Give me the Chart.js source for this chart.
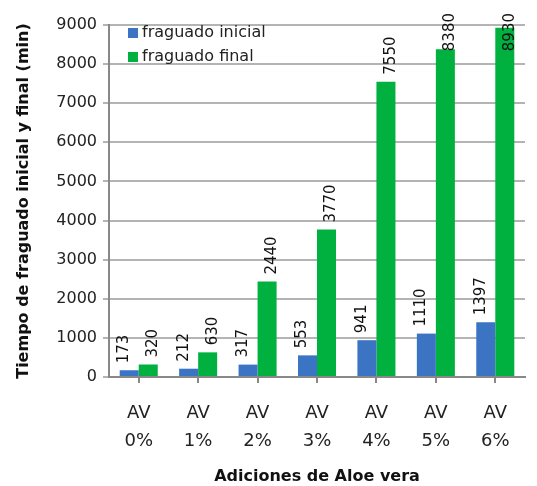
<!DOCTYPE html>
<html>
<head>
<meta charset="utf-8">
<script src="https://cdn.jsdelivr.net/npm/chart.js@4.4.0/dist/chart.umd.min.js"></script>
<style>
  html, body { margin: 0; padding: 0; background: #fff; }
  #wrap { width: 537px; height: 486px; position: relative; }
</style>
</head>
<body>
<div id="wrap"><canvas id="chart" width="537" height="486"></canvas></div>
<script>
var categories = [["AV", "0%"], ["AV", "1%"], ["AV", "2%"], ["AV", "3%"], ["AV", "4%"], ["AV", "5%"], ["AV", "6%"]];
var inicialValues = [173, 212, 317, 553, 941, 1110, 1397];
var finalValues = [320, 630, 2440, 3770, 7550, 8380, 8930];
var seriesNames = ["fraguado inicial", "fraguado final"];
var yTicks = [0, 1000, 2000, 3000, 4000, 5000, 6000, 7000, 8000, 9000];

var FONT = "'DejaVu Sans', sans-serif";

// rotated value labels over each bar
var valueLabels = {
    id: "valueLabels",
    afterDatasetsDraw: function (chart) {
        var ctx = chart.ctx;
        var offsets = [-5, 5];
        ctx.save();
        ctx.font = "15px " + FONT;
        ctx.fillStyle = "#111";
        ctx.textBaseline = "middle";
        ctx.textAlign = "left";
        chart.data.datasets.forEach(function (ds, di) {
            var meta = chart.getDatasetMeta(di);
            meta.data.forEach(function (bar, i) {
                var txt = String(ds.data[i]);
                var w = ctx.measureText(txt).width;
                var start = bar.y - 7;
                if (start - w < 13) start = 13 + w;
                ctx.save();
                ctx.translate(bar.x + offsets[di], start);
                ctx.rotate(-Math.PI / 2);
                ctx.fillText(txt, 0, 0);
                ctx.restore();
            });
        });
        ctx.restore();
    }
};

// legend drawn inside the plot area, top left
var innerLegend = {
    id: "innerLegend",
    afterDraw: function (chart) {
        var ctx = chart.ctx;
        var area = chart.chartArea;
        ctx.save();
        ctx.font = "16px " + FONT;
        ctx.textBaseline = "middle";
        ctx.textAlign = "left";
        chart.data.datasets.forEach(function (ds, i) {
            var y = area.top + 8 + i * 24;
            ctx.fillStyle = ds.backgroundColor;
            ctx.fillRect(area.left + 19, y - 5, 10, 10);
            ctx.fillStyle = "#222";
            ctx.fillText(ds.label, area.left + 33, y);
        });
        ctx.restore();
    }
};

var chart = new Chart(document.getElementById("chart"), {
    type: "bar",
    data: {
        labels: categories,
        datasets: [
            {
                label: seriesNames[0],
                data: inicialValues,
                backgroundColor: "#3b74c2",
                categoryPercentage: 0.64,
                barPercentage: 1.0
            },
            {
                label: seriesNames[1],
                data: finalValues,
                backgroundColor: "#00b140",
                categoryPercentage: 0.64,
                barPercentage: 1.0
            }
        ]
    },
    options: {
        responsive: false,
        animation: false,
        layout: {
            padding: { top: 25, right: 12, bottom: 0, left: 0 }
        },
        plugins: {
            legend: { display: false },
            tooltip: { enabled: false }
        },
        scales: {
            x: {
                grid: {
                    offset: false,
                    drawOnChartArea: false,
                    drawTicks: true,
                    tickLength: 6,
                    color: "#888",
                    lineWidth: 2
                },
                border: { color: "#888", width: 2 },
                ticks: {
                    color: "#222",
                    padding: 16,
                    font: { family: FONT, size: 18, lineHeight: 1.55 },
                    maxRotation: 0,
                    autoSkip: false
                },
                title: {
                    display: true,
                    text: "Adiciones de Aloe vera",
                    color: "#111",
                    font: { family: FONT, size: 16, weight: "bold" },
                    padding: { top: 0, bottom: 0 }
                },
                afterFit: function (scale) { scale.height = 109; }
            },
            y: {
                min: 0,
                max: 9000,
                afterBuildTicks: function (scale) {
                    scale.ticks = yTicks.map(function (v) { return { value: v }; });
                },
                grid: {
                    color: "#b4b4b4",
                    lineWidth: 2,
                    drawTicks: true,
                    tickLength: 6
                },
                border: { color: "#888", width: 2 },
                ticks: {
                    color: "#222",
                    padding: 6,
                    font: { family: FONT, size: 16 },
                    callback: function (v) { return String(v); }
                },
                title: {
                    display: true,
                    text: "Tiempo de fraguado inicial y final (min)",
                    color: "#111",
                    font: { family: FONT, size: 16, weight: "bold" },
                    padding: { top: 14, bottom: 0 }
                },
                afterFit: function (scale) { scale.width = 109; }
            }
        }
    },
    plugins: [valueLabels, innerLegend]
});
</script>
</body>
</html>
